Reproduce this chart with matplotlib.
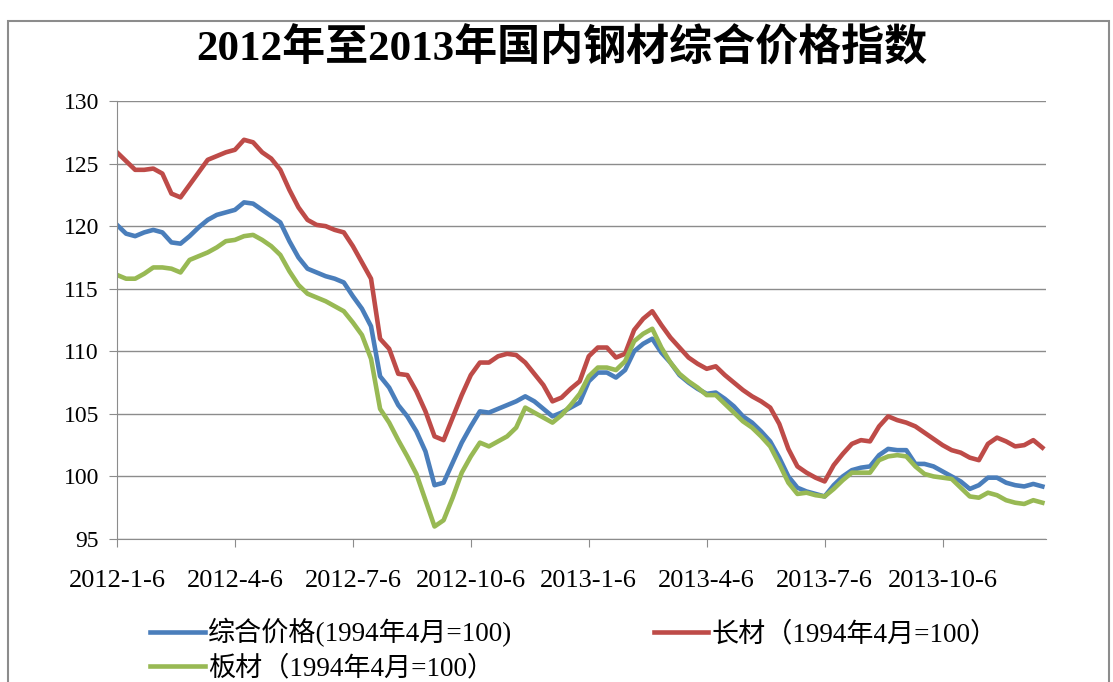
import matplotlib
matplotlib.use("Agg")
import matplotlib.pyplot as plt
from matplotlib.patches import Rectangle

# weekly index values, 2012-1-6 .. 2013-12
composite = [120.1, 119.4, 119.2, 119.5, 119.7, 119.5, 118.7, 118.6, 119.2, 119.9,
             120.5, 120.9, 121.1, 121.3, 121.9, 121.8, 121.3, 120.8, 120.3, 118.8,
             117.5, 116.6, 116.3, 116.0, 115.8, 115.5, 114.4, 113.4, 112.0, 108.0,
             107.1, 105.7, 104.8, 103.6, 102.0, 99.3, 99.5, 101.1, 102.7, 104.0,
             105.2, 105.1, 105.4, 105.7, 106.0, 106.4, 106.0, 105.4, 104.8, 105.1,
             105.5, 105.9, 107.6, 108.3, 108.3, 107.9, 108.5, 110.0, 110.6, 111.0,
             109.9, 109.1, 108.1, 107.5, 107.0, 106.6, 106.7, 106.2, 105.6, 104.8,
             104.3, 103.6, 102.8, 101.5, 100.0, 99.1, 98.8, 98.6, 98.4, 99.3,
             100.0, 100.5, 100.7, 100.8, 101.7, 102.2, 102.1, 102.1, 101.0, 101.0,
             100.8, 100.4, 100.0, 99.6, 99.0, 99.3, 99.9, 99.9, 99.5, 99.3,
             99.2, 99.4, 99.2]

long_steel = [125.9, 125.2, 124.5, 124.5, 124.6, 124.2, 122.6, 122.3, 123.3, 124.3,
              125.3, 125.6, 125.9, 126.1, 126.9, 126.7, 125.9, 125.4, 124.5, 122.9,
              121.5, 120.5, 120.1, 120.0, 119.7, 119.5, 118.4, 117.1, 115.8, 111.0,
              110.2, 108.2, 108.1, 106.8, 105.2, 103.2, 102.9, 104.7, 106.5, 108.1,
              109.1, 109.1, 109.6, 109.8, 109.7, 109.1, 108.2, 107.3, 106.0, 106.3,
              107.0, 107.6, 109.6, 110.3, 110.3, 109.5, 109.8, 111.7, 112.6, 113.2,
              112.1, 111.1, 110.3, 109.5, 109.0, 108.6, 108.8, 108.1, 107.5, 106.9,
              106.4, 106.0, 105.5, 104.2, 102.2, 100.8, 100.3, 99.9, 99.6, 100.9,
              101.8, 102.6, 102.9, 102.8, 104.0, 104.8, 104.5, 104.3, 104.0, 103.5,
              103.0, 102.5, 102.1, 101.9, 101.5, 101.3, 102.6, 103.1, 102.8, 102.4,
              102.5, 102.9, 102.3]

plate = [116.1, 115.8, 115.8, 116.2, 116.7, 116.7, 116.6, 116.3, 117.3, 117.6,
         117.9, 118.3, 118.8, 118.9, 119.2, 119.3, 118.9, 118.4, 117.7, 116.4,
         115.3, 114.6, 114.3, 114.0, 113.6, 113.2, 112.3, 111.3, 109.4, 105.4,
         104.3, 102.9, 101.6, 100.2, 98.1, 96.0, 96.5, 98.3, 100.3, 101.6,
         102.7, 102.4, 102.8, 103.2, 103.9, 105.5, 105.1, 104.7, 104.3, 104.9,
         105.7, 106.6, 108.0, 108.7, 108.7, 108.5, 109.2, 110.8, 111.4, 111.8,
         110.3, 109.1, 108.2, 107.6, 107.1, 106.5, 106.5, 105.8, 105.1, 104.4,
         103.9, 103.2, 102.4, 101.0, 99.5, 98.6, 98.7, 98.5, 98.4, 99.0,
         99.7, 100.3, 100.3, 100.3, 101.3, 101.6, 101.7, 101.6, 100.8, 100.2,
         100.0, 99.9, 99.8, 99.1, 98.4, 98.3, 98.7, 98.5, 98.1, 97.9,
         97.8, 98.1, 97.9]

tick_labels = ["2012-1-6", "2012-4-6", "2012-7-6", "2012-10-6",
               "2013-1-6", "2013-4-6", "2013-7-6", "2013-10-6"]
series_names = ["综合价格(1994年4月=100)", "长材（1994年4月=100）", "板材（1994年4月=100）"]

fam = ["Liberation Serif", "Noto Sans CJK SC"]
plt.rcParams["font.family"] = fam

fig = plt.figure(figsize=(11.13, 6.82), dpi=100)
ax = fig.add_axes([117 / 1113, 1 - 539 / 682, (1046 - 117) / 1113, (539 - 101) / 682])

weeks = list(range(len(composite)))
l1, = ax.plot(weeks, composite, color="#4A7EBB", lw=3.3, solid_joinstyle="round")
l2, = ax.plot(weeks, long_steel, color="#BE4B48", lw=3.3, solid_joinstyle="round")
l3, = ax.plot(weeks, plate, color="#98B954", lw=3.3, solid_joinstyle="round")

ax.set_xlim(0, 102.4)
ax.set_ylim(95, 130)
ax.set_yticks(range(95, 131, 5))
ax.yaxis.grid(True, color="#8c8c8c", lw=1)
ax.set_axisbelow(True)
ax.set_xticks(range(0, 13 * len(tick_labels), 13))
ax.set_xticklabels(tick_labels)
for s in ["top", "right"]:
    ax.spines[s].set_visible(False)
for s in ["left", "bottom"]:
    ax.spines[s].set_color("#8c8c8c")
ax.tick_params(axis="x", length=6, color="#8c8c8c", pad=16, labelsize=19)
ax.tick_params(axis="y", length=6, color="#8c8c8c", pad=7, labelsize=17)

fig.text(0.505, 0.928, "2012年至2013年国内钢材综合价格指数", ha="center", va="center",
         fontsize=31, fontweight="bold", family=fam)

fig.legend([l1, l3, l2], [series_names[0], series_names[2], series_names[1]],
           ncol=2, loc="upper left", bbox_to_anchor=(126 / 1113, 1 - 594 / 682),
           frameon=False, fontsize=19.5, handlelength=2.0, handletextpad=0.12,
           columnspacing=5.25, labelspacing=0.3, borderpad=0.4)

fig.add_artist(Rectangle((8 / 1113, -0.1), 1101 / 1113, 1.1 - 21 / 682, transform=fig.transFigure,
                         fill=False, edgecolor="#8c8c8c", lw=1.5))

fig.savefig("out.png", dpi=100)
